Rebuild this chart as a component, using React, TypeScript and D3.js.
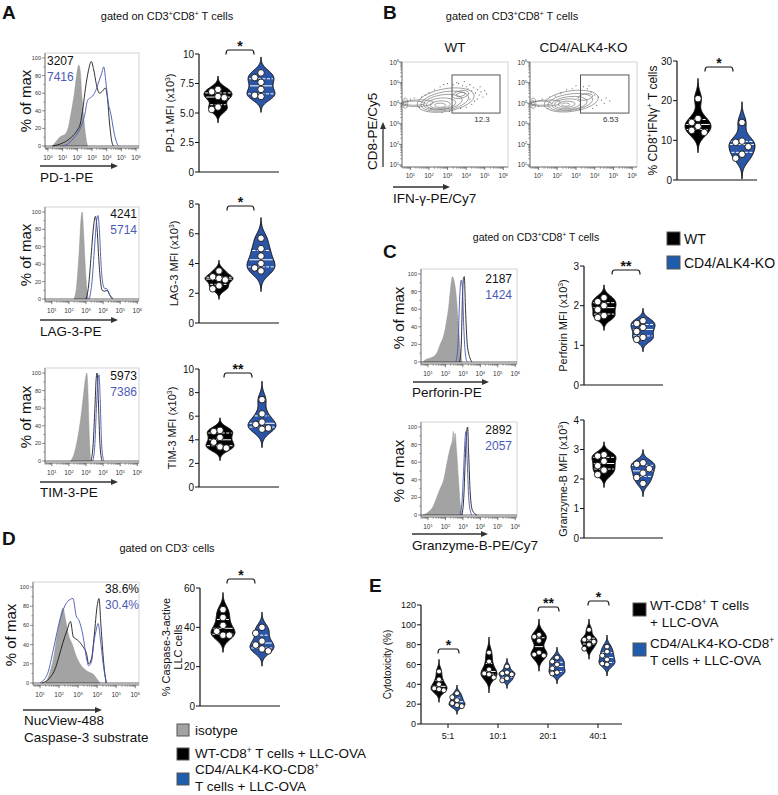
import React from 'react';
import * as d3 from 'd3';

const FONT = "'Liberation Sans', Arial, Helvetica, sans-serif";
const BLUE_FILL = '#2b55a6';
const BLUE_LEG = '#1f5cab';
const BLUE_LINE = '#4656b4';
const BLUE_TXT = '#4a5bb6';
const GREY_FILL = '#a3a3a3';

// ---------------- histogram data: [log10 fluorescence, % of max] ----------------
const pd1Iso = [[0.3,0],[0.5,4],[0.8,10],[1.0,12],[1.2,14],[1.4,22],[1.6,40],[1.8,60],[1.95,80],[2.1,92],[2.2,85],[2.3,60],[2.45,30],[2.6,8],[2.7,0]];
const pd1WT = [[0.3,0],[0.8,2],[1.2,5],[1.6,10],[2.0,18],[2.2,25],[2.4,45],[2.55,65],[2.75,85],[2.95,96],[3.1,88],[3.3,70],[3.5,60],[3.7,62],[3.9,66],[4.05,55],[4.2,25],[4.35,5],[4.45,0]];
const pd1KO = [[1.0,0],[1.4,3],[1.8,10],[2.2,20],[2.5,35],[2.7,52],[2.9,55],[3.1,58],[3.3,65],[3.5,75],[3.65,82],[3.8,90],[3.95,72],[4.1,50],[4.3,35],[4.45,20],[4.6,8],[4.8,0]];
const lag3Iso = [[2.3,0],[2.45,15],[2.6,55],[2.72,95],[2.78,100],[2.85,80],[2.95,40],[3.05,12],[3.15,0]];
const lag3WT = [[3.0,0],[3.15,15],[3.3,50],[3.45,85],[3.55,95],[3.65,80],[3.75,45],[3.85,20],[3.95,10],[4.1,9],[4.25,10],[4.4,4],[4.55,0]];
const lag3KO = [[3.2,0],[3.35,20],[3.5,60],[3.62,90],[3.7,96],[3.78,80],[3.88,40],[3.98,18],[4.1,12],[4.2,12],[4.35,6],[4.6,0]];
const tim3Iso = [[2.1,0],[2.3,8],[2.5,25],[2.7,50],[2.85,75],[2.98,95],[3.05,100],[3.12,75],[3.2,25],[3.27,0]];
const tim3WT = [[3.3,0],[3.42,20],[3.52,60],[3.6,95],[3.65,100],[3.72,70],[3.8,25],[3.9,3],[3.95,0]];
const tim3KO = [[3.4,0],[3.52,20],[3.62,65],[3.7,92],[3.76,98],[3.83,70],[3.9,25],[4.0,3],[4.05,0]];
const perfIso = [[0.7,0],[0.9,3],[1.2,5],[1.5,10],[1.7,20],[1.9,30],[2.05,45],[2.2,65],[2.3,85],[2.4,97],[2.5,92],[2.62,75],[2.75,40],[2.88,10],[2.95,0]];
const perfWT = [[2.8,0],[2.9,15],[2.97,70],[3.03,95],[3.08,97],[3.15,60],[3.25,20],[3.4,5],[3.52,0]];
const perfKO = [[2.6,0],[2.72,20],[2.82,75],[2.9,93],[2.97,85],[3.05,40],[3.15,8],[3.25,0]];
const gzmIso = [[0.7,0],[1.0,3],[1.3,10],[1.5,20],[1.7,30],[1.9,40],[2.05,55],[2.2,70],[2.3,78],[2.4,85],[2.45,95],[2.5,80],[2.55,93],[2.65,70],[2.75,40],[2.85,12],[2.95,0]];
const gzmWT = [[2.95,0],[3.05,20],[3.15,70],[3.22,95],[3.27,100],[3.33,70],[3.42,25],[3.55,5],[3.8,0]];
const gzmKO = [[2.83,0],[2.95,15],[3.05,55],[3.12,85],[3.18,95],[3.25,60],[3.35,15],[3.5,0]];
const casIso = [[1.3,0],[1.5,10],[1.7,25],[1.9,50],[2.1,72],[2.2,78],[2.35,65],[2.5,50],[2.7,40],[2.9,28],[3.1,20],[3.3,15],[3.5,12],[3.8,9],[4.0,4],[4.15,0]];
const casWT = [[1.1,0],[1.5,5],[1.8,15],[2.0,28],[2.2,42],[2.42,55],[2.6,64],[2.75,48],[2.95,45],[3.25,38],[3.45,30],[3.55,20],[3.7,25],[3.85,50],[4.0,80],[4.1,88],[4.2,60],[4.35,20],[4.47,0]];
const casKO = [[1.0,0],[1.4,10],[1.7,35],[2.0,62],[2.25,78],[2.45,85],[2.73,88],[2.9,70],[3.05,65],[3.25,50],[3.45,25],[3.55,18],[3.7,22],[3.85,45],[3.95,55],[4.05,62],[4.2,40],[4.35,15],[4.5,0]];

// MFI / percent labels
const mfiPD1 = ['3207', '7416'];
const mfiLAG3 = ['4241', '5714'];
const mfiTIM3 = ['5973', '7386'];
const mfiPerf = ['2187', '1424'];
const mfiGzm = ['2892', '2057'];
const pctCas = ['38.6%', '30.4%'];

// ---------------- violin data ----------------
const pd1WTv = [7.0, 6.8, 6.4, 6.3, 5.5, 5.3];
const pd1KOv = [8.4, 8.0, 7.6, 7.0, 6.5, 6.4];
const lag3WTv = [3.5, 3.1, 3.0, 2.9, 2.5, 2.3];
const lag3KOv = [5.7, 5.0, 4.5, 4.0, 3.7, 3.5];
const tim3WTv = [4.8, 4.7, 4.2, 3.8, 3.4, 3.3];
const tim3KOv = [7.4, 6.2, 5.5, 5.3, 5.0, 4.9];
const ifnWTv = [20.5, 15.5, 14.5, 13.5, 12.5, 12.0];
const ifnKOv = [14.5, 9.8, 9.5, 8.4, 6.5, 5.5];
const perfWTv = [2.2, 2.1, 2.0, 1.9, 1.75, 1.7];
const perfKOv = [1.62, 1.55, 1.45, 1.35, 1.2, 1.15];
const gzmWTv = [2.82, 2.78, 2.6, 2.45, 2.3, 2.15];
const gzmKOv = [2.55, 2.5, 2.35, 2.2, 2.05, 1.85];
const casWTv = [49, 45, 41, 38, 36, 36];
const casKOv = [40, 37, 33, 31, 29, 28];
const ratios = ['5:1', '10:1', '20:1', '40:1'];
const cytoWT = [[53, 45, 40, 36, 35, 34], [72, 63, 55, 51, 50, 47], [90, 88, 84, 72, 70, 69], [95, 87, 85, 83, 80, 76]];
const cytoKO = [[31, 27, 24, 21, 19, 18], [58, 52, 51, 50, 46, 44], [67, 63, 60, 56, 52, 51], [78, 73, 69, 65, 61, 60]];
const cytoStars = ['*', '', '**', '*'];

// ---------------- flow contour data (log10 units) ----------------
// [cx, cy, rx (decades), ry (decades), tilt deg]
const wtContours = [
  [2.9, 4.15, 1.55, 0.55, 10], [2.85, 4.1, 1.3, 0.45, 10], [2.75, 4.05, 1.05, 0.36, 8],
  [2.65, 3.98, 0.8, 0.27, 5], [2.6, 3.93, 0.55, 0.18, 3], [2.6, 3.9, 0.3, 0.1, 0],
  [1.4, 4.0, 0.85, 0.16, 2], [1.2, 4.0, 0.6, 0.1, 0], [3.7, 4.42, 0.45, 0.18, 12],
  [3.7, 4.42, 0.25, 0.09, 12], [0.72, 4.0, 0.14, 0.25, 0], [0.7, 4.0, 0.07, 0.14, 0],
];
const koContours = [
  [2.75, 4.1, 1.45, 0.5, 8], [2.7, 4.05, 1.2, 0.4, 8], [2.65, 4.0, 0.95, 0.32, 6],
  [2.55, 3.97, 0.7, 0.24, 4], [2.5, 3.95, 0.45, 0.15, 2], [2.45, 3.93, 0.22, 0.08, 0],
  [1.4, 4.0, 0.8, 0.15, 2], [1.15, 4.0, 0.55, 0.1, 0], [3.5, 4.3, 0.4, 0.15, 10],
  [0.72, 4.0, 0.14, 0.25, 0], [0.7, 4.0, 0.07, 0.14, 0],
];
const wtDots = [[3.3,4.9],[3.5,5.0],[3.6,4.95],[3.8,4.85],[3.9,5.05],[4.0,4.8],[4.1,4.7],[4.2,4.9],[4.3,4.6],[4.4,4.75],[4.5,4.5],[4.6,4.65],[4.7,4.4],[4.8,4.55],[4.9,4.3],[5.0,4.6],[4.6,4.2],[4.45,4.1],[4.3,3.95],[4.0,3.8],[3.7,3.75],[4.2,4.2],[4.75,4.8],[5.1,4.45],[2.0,4.5],[2.3,4.65],[2.6,4.8],[2.8,4.9],[3.0,4.95],[1.6,4.3],[1.8,4.4],[2.1,3.75],[1.5,3.8],[1.0,4.2],[1.2,4.25],[3.1,3.6],[2.7,3.55]];
const koDots = [[3.4,4.8],[3.6,4.7],[3.8,4.55],[4.0,4.4],[4.2,4.3],[4.35,4.15],[4.5,4.0],[4.6,4.25],[4.1,3.9],[3.9,3.75],[3.2,3.7],[2.8,4.7],[2.5,4.65],[2.2,4.5],[1.9,4.35],[1.6,4.3],[1.2,4.2],[1.0,3.85],[1.5,3.75],[3.0,4.85],[4.8,4.1],[3.7,4.85]];
const gateWT = [3.24, 5.82, 3.52, 5.37];
const gateKO = [3.24, 5.82, 3.52, 5.37];
const gateLabels = ['12.3', '6.53'];

// ---------------- helpers ----------------
type Seg = string | { s: string };
function Rich({ x, y, segs, fs, anchor = 'start', fill = '#111', rot = false, weight = 'normal' }: any) {
  let up = false;
  const sh = fs * 0.38;
  const kids = (segs as Seg[]).map((s, i) => {
    const isSup = typeof s !== 'string';
    const t = isSup ? (s as any).s : (s as string);
    let dy = 0;
    if (isSup && !up) { dy = -sh; up = true; } else if (!isSup && up) { dy = sh; up = false; }
    return <tspan key={i} dy={dy || undefined} fontSize={isSup ? fs * 0.62 : undefined}>{t}</tspan>;
  });
  return (
    <text x={x} y={y} fontSize={fs} textAnchor={anchor} fill={fill} fontWeight={weight}
      transform={rot ? `rotate(-90 ${x} ${y})` : undefined} style={{ whiteSpace: 'pre' }}>{kids}</text>
  );
}

function Arrow({ x1, y1, x2, y2 }: any) {
  const ang = Math.atan2(y2 - y1, x2 - x1);
  const L = 7, W = 3;
  const bx = x2 - L * Math.cos(ang), by = y2 - L * Math.sin(ang);
  const px = -Math.sin(ang) * W, py = Math.cos(ang) * W;
  return (
    <g>
      <line x1={x1} y1={y1} x2={bx} y2={by} stroke="#333" strokeWidth={1.3} />
      <path d={`M${x2},${y2}L${bx + px},${by + py}L${bx - px},${by - py}Z`} fill="#333" />
    </g>
  );
}

function logMinors(d0: number, d1: number) {
  const out: number[] = [];
  for (let n = Math.floor(d0); n < d1; n++) for (let k = 2; k < 10; k++) {
    const v = n + Math.log10(k);
    if (v > d0 && v < d1) out.push(v);
  }
  return out;
}

function Histo({ x0, x1, yZero, y100, domain, decades, iso, wt, ko, nums, numX, numY, numAnchor }: any) {
  const xs = d3.scaleLinear().domain(domain).range([x0, x1]);
  const ys = d3.scaleLinear().domain([0, 100]).range([yZero, y100]);
  const top = y100 - 5, bottom = yZero + 2;
  const area = d3.area<any>().x(d => xs(d[0])).y0(yZero).y1(d => ys(d[1])).curve(d3.curveMonotoneX);
  const line = d3.line<any>().x(d => xs(d[0])).y(d => ys(d[1])).curve(d3.curveMonotoneX);
  const minors = logMinors(domain[0], domain[1]);
  const yT = [0, 20, 40, 60, 80, 100];
  const yM = [10, 30, 50, 70, 90];
  return (
    <g>
      <rect x={x0} y={top} width={x1 - x0} height={bottom - top} fill="none" stroke="#c8c8c8" strokeWidth={0.8} />
      <path d={area(iso) || ''} fill={GREY_FILL} stroke="#8c8c8c" strokeWidth={0.4} />
      <line x1={x0} x2={x1} y1={yZero} y2={yZero} stroke="#222" strokeWidth={0.7} />
      <path d={line(wt) || ''} fill="none" stroke="#1a1a1a" strokeWidth={0.9} />
      <path d={line(ko) || ''} fill="none" stroke={BLUE_LINE} strokeWidth={0.9} />
      <line x1={x0} x2={x0} y1={top} y2={bottom} stroke="#555" strokeWidth={0.7} />
      <line x1={x0} x2={x1} y1={bottom} y2={bottom} stroke="#555" strokeWidth={0.7} />
      {yT.map(v => (
        <g key={'y' + v}>
          <line x1={x0 - 3} x2={x0} y1={ys(v)} y2={ys(v)} stroke="#444" strokeWidth={0.6} />
          <text x={x0 - 4} y={ys(v) + 2} fontSize={5.5} textAnchor="end" fill="#333">{v}</text>
        </g>
      ))}
      {yM.map(v => <line key={'ym' + v} x1={x0 - 1.6} x2={x0} y1={ys(v)} y2={ys(v)} stroke="#444" strokeWidth={0.5} />)}
      {decades.map((n: number) => (
        <g key={'x' + n}>
          <line x1={xs(n)} x2={xs(n)} y1={bottom} y2={bottom + 3.2} stroke="#444" strokeWidth={0.7} />
          <Rich x={xs(n)} y={bottom + 12} segs={['10', { s: String(n) }]} fs={6.5} anchor="middle" fill="#333" />
        </g>
      ))}
      {minors.map((v, i) => <line key={'xm' + i} x1={xs(v)} x2={xs(v)} y1={bottom} y2={bottom + 1.8} stroke="#444" strokeWidth={0.5} />)}
      <text x={numX} y={numY} fontSize={12} textAnchor={numAnchor} fill="#111">{nums[0]}</text>
      <text x={numX} y={numY + 16} fontSize={12} textAnchor={numAnchor} fill={BLUE_TXT}>{nums[1]}</text>
    </g>
  );
}

function dodge(vals: number[], ys: any, r: number) {
  const placed: { x: number; y: number }[] = [];
  return vals.map(v => {
    const y = ys(v);
    for (const off of [0, -1, 1, -2, 2]) {
      const x = off * r * 1.9;
      if (placed.every(p => (p.x - x) ** 2 + (p.y - y) ** 2 >= (1.9 * r) ** 2)) { placed.push({ x, y }); return { x, y }; }
    }
    placed.push({ x: 0, y }); return { x: 0, y };
  });
}

function Violin({ cx, vals, ys, halfW, fill, r }: any) {
  const sd = d3.deviation(vals) || 1;
  const bw = sd * 0.55;
  const lo = (d3.min(vals) as number) - 3 * bw, hi = (d3.max(vals) as number) + 3 * bw;
  const dens = (v: number) => d3.mean(vals as number[], x => Math.exp(-0.5 * ((v - x) / bw) ** 2)) as number;
  const grid = d3.range(0, 81).map(i => lo + (hi - lo) * i / 80);
  const mx = d3.max(grid, dens) as number;
  const pts = grid.map(v => ({ v, w: dens(v) / mx * halfW }));
  const area = d3.area<any>().y(d => ys(d.v)).x0(d => cx - d.w).x1(d => cx + d.w).curve(d3.curveBasis);
  const s = (vals as number[]).slice().sort(d3.ascending);
  const qs = [0.25, 0.5, 0.75].map(p => d3.quantile(s, p) as number);
  const dots = dodge(vals, ys, r);
  return (
    <g>
      <path d={area(pts) || ''} fill={fill} stroke="#111" strokeWidth={1} />
      {qs.map((q, i) => {
        const w = dens(q) / mx * halfW;
        return <line key={i} x1={cx - w + 1} x2={cx + w - 1} y1={ys(q)} y2={ys(q)} stroke="#fff" strokeWidth={1} strokeDasharray={i === 1 ? undefined : '3,1.5'} />;
      })}
      {dots.map((d, i) => <circle key={i} cx={cx + d.x} cy={d.y} r={r} fill="#fff" stroke="#111" strokeWidth={0.9} />)}
    </g>
  );
}

function Bracket({ xa, xb, y, stars, fs = 14 }: any) {
  const h = 4.5, c = 2.5;
  const d = `M${xa},${y + h}Q${xa},${y} ${xa + c},${y}L${xb - c},${y}Q${xb},${y} ${xb},${y + h}`;
  return (
    <g>
      <path d={d} fill="none" stroke="#111" strokeWidth={1.2} />
      <text x={(xa + xb) / 2} y={y + 0.5} fontSize={fs} fontWeight="bold" textAnchor="middle" fill="#111">{stars}</text>
    </g>
  );
}

function ViolinPanel({ ax, xEnd, y0, yTop, max, ticks, fmt, groups, halfW, r, tickFs = 10, label, labelX, labelFs = 11, bracket }: any) {
  const ys = d3.scaleLinear().domain([0, max]).range([y0, yTop]);
  return (
    <g>
      <line x1={ax} x2={ax} y1={y0} y2={yTop} stroke="#111" strokeWidth={1.2} />
      <line x1={ax} x2={xEnd} y1={y0} y2={y0} stroke="#111" strokeWidth={1.2} />
      {ticks.map((t: number) => (
        <g key={t}>
          <line x1={ax - 4} x2={ax} y1={ys(t)} y2={ys(t)} stroke="#111" strokeWidth={1} />
          <text x={ax - 5} y={ys(t) + tickFs * 0.36} fontSize={tickFs} textAnchor="end" fill="#111">{fmt(t)}</text>
        </g>
      ))}
      {groups.map((g: any, i: number) => <Violin key={i} cx={g.cx} vals={g.vals} ys={ys} halfW={halfW} fill={g.fill} r={r} />)}
      {label && label.map((lab: any, i: number) => (
        <Rich key={i} x={labelX[i]} y={(y0 + yTop) / 2} segs={lab} fs={labelFs} anchor="middle" rot />
      ))}
      {bracket && bracket.map((b: any, i: number) => <Bracket key={i} {...b} />)}
    </g>
  );
}

function FlowContour({ x0, x1, contours, dots, gate, gateLabel, title }: any) {
  const xs = d3.scaleLinear().domain([0.55, 6.25]).range([x0, x1]);
  const ys = d3.scaleLinear().domain([0.9, 6.0]).range([167, 62]);
  const pxX = xs(1) - xs(0), pxY = ys(0) - ys(1);
  const decs = [1, 2, 3, 4, 5, 6];
  const minX = logMinors(0.55, 6.25);
  const minY = logMinors(0.9, 6.0);
  return (
    <g>
      <text x={(x0 + x1) / 2} y={52} fontSize={13.5} textAnchor="middle" fill="#111">{title}</text>
      <rect x={x0} y={62} width={x1 - x0} height={105} fill="none" stroke="#c8c8c8" strokeWidth={0.8} />
      {dots.map((d: number[], i: number) => <circle key={'d' + i} cx={xs(d[0])} cy={ys(d[1])} r={0.55} fill="#444" />)}
      {contours.map((c: number[], i: number) => (
        <ellipse key={'c' + i} cx={xs(c[0])} cy={ys(c[1])} rx={c[2] * pxX} ry={c[3] * pxY}
          transform={`rotate(${-c[4]} ${xs(c[0])} ${ys(c[1])})`} fill="none" stroke="#6a6a6a" strokeWidth={0.6} />
      ))}
      <rect x={xs(gate[0])} y={ys(gate[3])} width={xs(gate[1]) - xs(gate[0])} height={ys(gate[2]) - ys(gate[3])} fill="none" stroke="#555" strokeWidth={1} />
      <text x={(xs(gate[0]) + xs(gate[1])) / 2 + 6} y={ys(gate[2]) + 9} fontSize={8} textAnchor="middle" fill="#333">{gateLabel}</text>
      <line x1={x0} x2={x0} y1={62} y2={167} stroke="#555" strokeWidth={0.7} />
      <line x1={x0} x2={x1} y1={167} y2={167} stroke="#555" strokeWidth={0.7} />
      {decs.map(n => (
        <g key={'t' + n}>
          <line x1={xs(n)} x2={xs(n)} y1={167} y2={170} stroke="#444" strokeWidth={0.7} />
          <Rich x={xs(n)} y={178} segs={['10', { s: String(n) }]} fs={6.5} anchor="middle" fill="#333" />
          <line x1={x0 - 3} x2={x0} y1={ys(n)} y2={ys(n)} stroke="#444" strokeWidth={0.7} />
          <Rich x={x0 - 3} y={ys(n) + 2.5} segs={['10', { s: String(n) }]} fs={6.5} anchor="end" fill="#333" />
        </g>
      ))}
      {minX.map((v, i) => <line key={'mx' + i} x1={xs(v)} x2={xs(v)} y1={167} y2={168.8} stroke="#444" strokeWidth={0.5} />)}
      {minY.map((v, i) => <line key={'my' + i} x1={x0 - 1.8} x2={x0} y1={ys(v)} y2={ys(v)} stroke="#444" strokeWidth={0.5} />)}
    </g>
  );
}

function LegendBox({ x, y, size, fill }: any) {
  return <rect x={x} y={y} width={size} height={size} fill={fill} stroke="#555" strokeWidth={1} />;
}

const sup = (s: string) => ({ s });
const gatedCD8: Seg[] = ['gated on CD3', sup('+'), 'CD8', sup('+'), ' T cells'];

export default function App() {
  const twoFill = [ '#000', BLUE_FILL ];
  const fmtInt = (t: number) => String(t);
  const fmt1 = (t: number) => (t === 0 ? '0' : t === 10 ? '10' : t.toFixed(1));
  const eX = d3.scalePoint<string>().domain(ratios).range([448, 598]);
  const eGroups: any[] = [];
  ratios.forEach((r, i) => {
    eGroups.push({ cx: (eX(r) as number) - 9, vals: cytoWT[i], fill: twoFill[0] });
    eGroups.push({ cx: (eX(r) as number) + 9, vals: cytoKO[i], fill: twoFill[1] });
  });
  const eBr = ratios.map((r, i) => ({ xa: (eX(r) as number) - 10, xb: (eX(r) as number) + 11, stars: cytoStars[i], i }))
    .filter(b => b.stars);
  const eBrY = [649, 0, 607, 601];

  return (
    <svg width={778} height={795} viewBox="0 0 778 795" fontFamily={FONT}
      style={{ position: 'absolute', left: 0, top: 0, background: '#fff' }}>
      <rect width={778} height={795} fill="#fff" />

      {/* ---------------- Panel A ---------------- */}
      <text x={2} y={19} fontSize={19} fontWeight="bold" fill="#111">A</text>
      <Rich x={167} y={20} segs={gatedCD8} fs={11} anchor="middle" />

      <Histo x0={45} x1={139} yZero={146} y100={58} domain={[-0.2, 6.2]} decades={[0, 1, 2, 3, 4, 5, 6]}
        iso={pd1Iso} wt={pd1WT} ko={pd1KO} nums={mfiPD1} numX={47} numY={65} numAnchor="start" />
      <text x={31} y={101} fontSize={15} textAnchor="middle" transform="rotate(-90 31 101)" fill="#111">% of max</text>
      <Arrow x1={40} y1={166} x2={118} y2={166} />
      <text x={40} y={182} fontSize={13.5} fill="#111">PD-1-PE</text>
      <ViolinPanel ax={199} xEnd={279} y0={172} yTop={54} max={10} ticks={[0, 2.5, 5, 7.5, 10]} fmt={fmt1}
        groups={[{ cx: 218, vals: pd1WTv, fill: twoFill[0] }, { cx: 261, vals: pd1KOv, fill: twoFill[1] }]}
        halfW={14} r={3.3} label={[['PD-1 MFI (x10', sup('3'), ')']]} labelX={[174]}
        bracket={[{ xa: 226, xb: 254, y: 50, stars: '*' }]} />

      <Histo x0={45} x1={139} yZero={299} y100={212} domain={[0.6, 6.1]} decades={[1, 2, 3, 4, 5, 6]}
        iso={lag3Iso} wt={lag3WT} ko={lag3KO} nums={mfiLAG3} numX={137} numY={218} numAnchor="end" />
      <text x={31} y={255} fontSize={15} textAnchor="middle" transform="rotate(-90 31 255)" fill="#111">% of max</text>
      <Arrow x1={40} y1={320} x2={118} y2={320} />
      <text x={40} y={336} fontSize={13.5} fill="#111">LAG-3-PE</text>
      <ViolinPanel ax={199} xEnd={279} y0={323} yTop={204} max={8} ticks={[0, 2, 4, 6, 8]} fmt={fmtInt}
        groups={[{ cx: 219, vals: lag3WTv, fill: twoFill[0] }, { cx: 261, vals: lag3KOv, fill: twoFill[1] }]}
        halfW={14} r={3.3} label={[['LAG-3 MFI (x10', sup('3'), ')']]} labelX={[178]}
        bracket={[{ xa: 227, xb: 254, y: 206, stars: '*' }]} />

      <Histo x0={45} x1={139} yZero={461} y100={373} domain={[0.6, 6.1]} decades={[1, 2, 3, 4, 5, 6]}
        iso={tim3Iso} wt={tim3WT} ko={tim3KO} nums={mfiTIM3} numX={137} numY={380} numAnchor="end" />
      <text x={31} y={417} fontSize={15} textAnchor="middle" transform="rotate(-90 31 417)" fill="#111">% of max</text>
      <Arrow x1={40} y1={482} x2={118} y2={482} />
      <text x={40} y={497} fontSize={13.5} fill="#111">TIM-3-PE</text>
      <ViolinPanel ax={199} xEnd={279} y0={487} yTop={369} max={10} ticks={[0, 2, 4, 6, 8, 10]} fmt={fmtInt}
        groups={[{ cx: 220, vals: tim3WTv, fill: twoFill[0] }, { cx: 262, vals: tim3KOv, fill: twoFill[1] }]}
        halfW={14} r={3.3} label={[['TIM-3 MFI (x10', sup('3'), ')']]} labelX={[176]}
        bracket={[{ xa: 224, xb: 252, y: 373, stars: '**' }]} />

      {/* ---------------- Panel B ---------------- */}
      <text x={383} y={19} fontSize={19} fontWeight="bold" fill="#111">B</text>
      <Rich x={512} y={20} segs={gatedCD8} fs={11} anchor="middle" />
      <FlowContour x0={402} x1={508} contours={wtContours} dots={wtDots} gate={gateWT} gateLabel={gateLabels[0]} title="WT" />
      <FlowContour x0={530} x1={637} contours={koContours} dots={koDots} gate={gateKO} gateLabel={gateLabels[1]} title="CD4/ALK4-KO" />
      <text x={377} y={170} fontSize={13.5} textAnchor="start" transform="rotate(-90 377 170)" fill="#111">CD8-PE/Cy5</text>
      <Arrow x1={383} y1={167} x2={383} y2={122} />
      <Arrow x1={393} y1={187} x2={450} y2={187} />
      <text x={393} y={203} fontSize={13.5} fill="#111">IFN-γ-PE/Cy7</text>
      <ViolinPanel ax={677} xEnd={757} y0={180} yTop={61} max={30} ticks={[0, 10, 20, 30]} fmt={fmtInt}
        groups={[{ cx: 698, vals: ifnWTv, fill: twoFill[0] }, { cx: 742, vals: ifnKOv, fill: twoFill[1] }]}
        halfW={13} r={3.3} label={[['% CD8', sup('+'), 'IFNγ', sup('+'), ' T cells']]} labelX={[657]} labelFs={12}
        bracket={[{ xa: 705, xb: 733, y: 67, stars: '*' }]} />

      {/* ---------------- Panel C ---------------- */}
      <text x={383} y={258} fontSize={19} fontWeight="bold" fill="#111">C</text>
      <Rich x={536} y={241} segs={gatedCD8} fs={10.5} anchor="middle" />
      <LegendBox x={667} y={232} size={13} fill="#000" />
      <text x={684} y={244} fontSize={14} fill="#111">WT</text>
      <LegendBox x={667} y={256} size={13} fill={BLUE_LEG} />
      <text x={684} y={268} fontSize={14} fill="#111">CD4/ALK4-KO</text>

      <Histo x0={421} x1={517} yZero={362} y100={274} domain={[0.6, 6.1]} decades={[1, 2, 3, 4, 5, 6]}
        iso={perfIso} wt={perfWT} ko={perfKO} nums={mfiPerf} numX={512} numY={283} numAnchor="end" />
      <text x={404} y={318} fontSize={15} textAnchor="middle" transform="rotate(-90 404 318)" fill="#111">% of max</text>
      <Arrow x1={413} y1={382} x2={489} y2={382} />
      <text x={412} y={397} fontSize={13.5} fill="#111">Perforin-PE</text>
      <ViolinPanel ax={584} xEnd={663} y0={385} yTop={266} max={3} ticks={[0, 1, 2, 3]} fmt={fmtInt}
        groups={[{ cx: 604, vals: perfWTv, fill: twoFill[0] }, { cx: 643, vals: perfKOv, fill: twoFill[1] }]}
        halfW={12} r={3.3} label={[['Perforin MFI (x10', sup('3'), ')']]} labelX={[567]}
        bracket={[{ xa: 612, xb: 640, y: 270, stars: '**' }]} />

      <Histo x0={421} x1={517} yZero={515} y100={427} domain={[0.6, 6.1]} decades={[1, 2, 3, 4, 5, 6]}
        iso={gzmIso} wt={gzmWT} ko={gzmKO} nums={mfiGzm} numX={512} numY={434} numAnchor="end" />
      <text x={404} y={471} fontSize={15} textAnchor="middle" transform="rotate(-90 404 471)" fill="#111">% of max</text>
      <Arrow x1={412} y1={534} x2={488} y2={534} />
      <text x={412} y={550} fontSize={13.5} fill="#111">Granzyme-B-PE/Cy7</text>
      <ViolinPanel ax={584} xEnd={663} y0={538} yTop={420} max={4} ticks={[0, 1, 2, 3, 4]} fmt={fmtInt}
        groups={[{ cx: 604, vals: gzmWTv, fill: twoFill[0] }, { cx: 643, vals: gzmKOv, fill: twoFill[1] }]}
        halfW={12} r={3.3} label={[['Granzyme-B MFI (x10', sup('3'), ')']]} labelX={[567]} />

      {/* ---------------- Panel D ---------------- */}
      <text x={2} y={545} fontSize={19} fontWeight="bold" fill="#111">D</text>
      <Rich x={167} y={552} segs={['gated on CD3', sup('-'), ' cells']} fs={11} anchor="middle" />
      <Histo x0={33} x1={139} yZero={683} y100={587} domain={[0.63, 6.2]} decades={[1, 2, 3, 4, 5, 6]}
        iso={casIso} wt={casWT} ko={casKO} nums={pctCas} numX={139} numY={593} numAnchor="end" />
      <text x={16} y={635} fontSize={15} textAnchor="middle" transform="rotate(-90 16 635)" fill="#111">% of max</text>
      <Arrow x1={23} y1={710} x2={102} y2={710} />
      <text x={24} y={725} fontSize={13.5} fill="#111">NucView-488</text>
      <text x={24} y={742} fontSize={13.5} fill="#111">Caspase-3 substrate</text>
      <ViolinPanel ax={200} xEnd={280} y0={706} yTop={588} max={60} ticks={[0, 20, 40, 60]} fmt={fmtInt}
        groups={[{ cx: 223, vals: casWTv, fill: twoFill[0] }, { cx: 262, vals: casKOv, fill: twoFill[1] }]}
        halfW={12} r={3.3} label={[['% Caspase-3-active'], ['LLC cells']]} labelX={[170, 182]} labelFs={11}
        bracket={[{ xa: 227, xb: 255, y: 579, stars: '*' }]} />
      <LegendBox x={177} y={724} size={12} fill={GREY_FILL} />
      <text x={195} y={735} fontSize={13.5} fill="#111">isotype</text>
      <LegendBox x={177} y={748} size={12} fill="#000" />
      <Rich x={195} y={758} segs={['WT-CD8', sup('+'), ' T cells + LLC-OVA']} fs={13.5} />
      <LegendBox x={177} y={773} size={12} fill={BLUE_LEG} />
      <Rich x={195} y={774} segs={['CD4/ALK4-KO-CD8', sup('+')]} fs={13.5} />
      <text x={195} y={791} fontSize={13.5} fill="#111">T cells + LLC-OVA</text>

      {/* ---------------- Panel E ---------------- */}
      <text x={369} y={592} fontSize={19} fontWeight="bold" fill="#111">E</text>
      <ViolinPanel ax={421} xEnd={622} y0={724} yTop={605} max={120} ticks={[0, 20, 40, 60, 80, 100, 120]} fmt={fmtInt}
        groups={eGroups} halfW={8} r={2.5} tickFs={9} label={[['Cytotoxicity (%)']]} labelX={[391]} labelFs={10}
        bracket={eBr.map(b => ({ xa: b.xa, xb: b.xb, y: eBrY[b.i], stars: b.stars }))} />
      {ratios.map(r => (
        <g key={r}>
          <line x1={eX(r) as number} x2={eX(r) as number} y1={724} y2={728} stroke="#111" strokeWidth={1} />
          <text x={eX(r) as number} y={739} fontSize={9} textAnchor="middle" fill="#111">{r}</text>
        </g>
      ))}
      <LegendBox x={633} y={603} size={13} fill="#000" />
      <Rich x={650} y={610} segs={['WT-CD8', sup('+'), ' T cells']} fs={13.5} />
      <text x={650} y={627} fontSize={13.5} fill="#111">+ LLC-OVA</text>
      <LegendBox x={633} y={643} size={13} fill={BLUE_LEG} />
      <Rich x={650} y={648} segs={['CD4/ALK4-KO-CD8', sup('+')]} fs={13.5} />
      <text x={650} y={665} fontSize={13.5} fill="#111">T cells + LLC-OVA</text>
    </svg>
  );
}
